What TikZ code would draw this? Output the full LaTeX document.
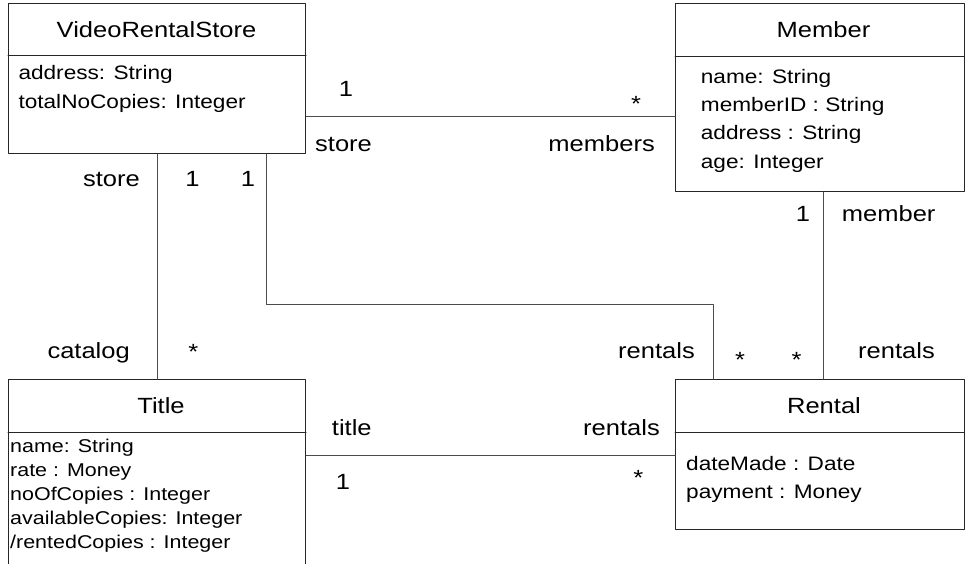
\documentclass[tikz,border=0pt]{standalone}
\usepackage{fontspec}
\setmainfont{Liberation Sans}[FakeStretch=1.16]
\begin{document}
\begin{tikzpicture}[x=1pt,y=-1pt,line join=round,line cap=round,
	lop/.style={draw=black!85,line width=1pt,inner sep=0pt,anchor=north west},
	ten/.style={font=\fontsize{22}{26}\selectfont,anchor=base,inner sep=0pt},
	thuoctinh/.style={font=\fontsize{19.5}{28}\selectfont,anchor=base west,inner sep=0pt},
	nhan/.style={font=\fontsize{22}{26}\selectfont,anchor=base,inner sep=0pt},
	noi/.style={draw=black!70,line width=1pt}]
	\clip (0,0) rectangle (965,564);
	% cac lop
	\node[lop,minimum width=297pt,minimum height=150pt] (store) at (8,3) {};
	\node[lop,minimum width=289pt,minimum height=188pt] (member) at (675,3) {};
	\node[lop,minimum width=297pt,minimum height=200pt] (title) at (8,379) {};
	\node[lop,minimum width=289pt,minimum height=150pt] (rental) at (675,379) {};
	% vach ngan ten lop
	\draw[black!85,line width=1pt] ([yshift=-53pt]store.north west) -- ([yshift=-53pt]store.north east);
	\draw[black!85,line width=1pt] ([yshift=-54pt]member.north west) -- ([yshift=-54pt]member.north east);
	\draw[black!85,line width=1pt] ([yshift=-53pt]title.north west) -- ([yshift=-53pt]title.north east);
	\draw[black!85,line width=1pt] ([yshift=-53pt]rental.north west) -- ([yshift=-53pt]rental.north east);
	% ten lop
	\node[ten] (tstore) at (156.5,37.7) {VideoRentalStore};
	\node[ten] (tmember) at (823.5,37.3) {Member};
	\node[ten] (ttitle) at (161,413.3) {Title};
	\node[ten] (trental) at (824,413.3) {Rental};
	% thuoc tinh
	\foreach \t [count=\i] in {address: String,totalNoCopies: Integer}
		\node[thuoctinh] (astore\i) at (18.3,{80+28.3*(\i-1)}) {\t};
	\foreach \t [count=\i] in {name: String,memberID : String,address : String,age: Integer}
		\node[thuoctinh] (amember\i) at (700.7,{83.3+28.3*(\i-1)}) {\t};
	\foreach \t [count=\i] in {name: String,rate : Money,noOfCopies : Integer,availableCopies: Integer,/rentedCopies : Integer}
		\node[thuoctinh,font=\fontsize{18.5}{24}\selectfont] (atitle\i) at (10,{452.7+23.9*(\i-1)}) {\t};
	\foreach \t [count=\i] in {dateMade : Date,payment : Money}
		\node[thuoctinh] (arental\i) at (686,{470+28.3*(\i-1)}) {\t};
	% duong noi
	\draw[noi] ([yshift=-113.5pt]store.north east) -- ([yshift=-113.5pt]member.north west);
	\draw[noi] ([xshift=149pt]store.south west) -- ([xshift=149pt]title.north west);
	\draw[noi] ([xshift=258pt]store.south west) -- ++(0,150) -| ([xshift=38pt]rental.north west);
	\draw[noi] ([xshift=148pt]member.south west) -- ([xshift=148pt]rental.north west);
	\draw[noi] ([yshift=-76pt]title.north east) -- ([yshift=-76pt]rental.north west);
	% nhan
	\node[nhan] (n1) at (346,96.7) {1};
	\node[nhan] (n2) at (636,111.4) {*};
	\node[nhan,anchor=base west] (n3) at (315,151.7) {store};
	\node[nhan,anchor=base east] (n4) at (655,151.7) {members};
	\node[nhan,anchor=base east] (n5) at (140,186.7) {store};
	\node[nhan] (n6) at (192.5,186.7) {1};
	\node[nhan] (n7) at (248,186.7) {1};
	\node[nhan,anchor=base east] (n8) at (130,358) {catalog};
	\node[nhan] (n9) at (193.3,359.2) {*};
	\node[nhan,anchor=base east] (n10) at (695,358) {rentals};
	\node[nhan] (n11) at (740,367) {*};
	\node[nhan] (n12) at (796.7,367) {*};
	\node[nhan,anchor=base west] (n13) at (858,358) {rentals};
	\node[nhan] (n14) at (803,221.7) {1};
	\node[nhan,anchor=base west] (n15) at (841.7,221.7) {member};
	\node[nhan,anchor=base west] (n16) at (331.7,435) {title};
	\node[nhan,anchor=base east] (n17) at (660,435) {rentals};
	\node[nhan] (n18) at (343,489.3) {1};
	\node[nhan] (n19) at (638.3,485) {*};
\end{tikzpicture}
\end{document}
